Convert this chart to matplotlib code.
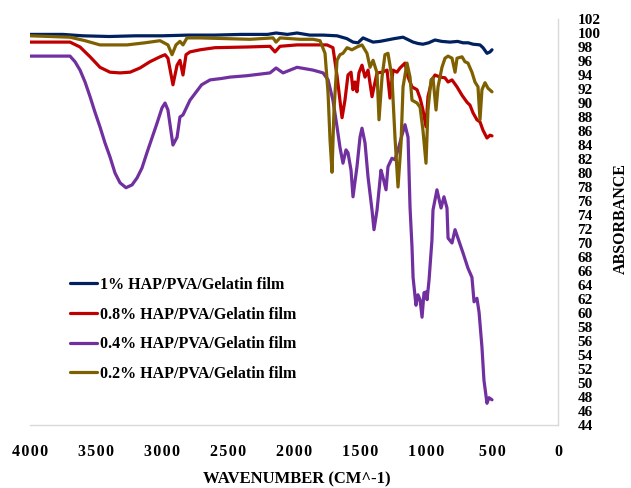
import matplotlib
matplotlib.use("Agg")
import matplotlib.pyplot as plt

# FTIR spectra of HAP/PVA/Gelatin films (wavenumber in cm^-1, absorbance)
wn_1 = [4000, 3750, 3600, 3400, 3200, 3000, 2800, 2600, 2400, 2200, 2136, 2050,
        1977, 1880, 1780, 1674, 1600, 1553, 1515, 1477, 1440, 1401, 1350, 1295,
        1240, 1174, 1098, 1060, 1023, 980, 932, 880, 818, 760, 720, 680, 644,
        591, 568, 538, 515, 500]
ab_1 = [99.8, 99.8, 99.6, 99.5, 99.6, 99.6, 99.7, 99.7, 99.8, 99.8, 100.0, 99.8,
        100.0, 99.7, 99.7, 99.6, 99.2, 98.7, 98.6, 99.3, 99.0, 98.7, 98.8, 99.0,
        99.2, 99.4, 98.7, 98.5, 98.4, 98.6, 99.0, 98.8, 98.7, 98.8, 98.6, 98.6, 98.4,
        98.3, 97.9, 97.1, 97.3, 97.6]

wn_08 = [4000, 3697, 3621, 3545, 3470, 3394, 3318, 3242, 3167, 3091, 3015, 2977,
         2955, 2917, 2886, 2864, 2841, 2818, 2788, 2712, 2600, 2356, 2182, 2144,
         2106, 1977, 1750, 1705, 1674, 1652, 1636, 1614, 1591, 1568, 1553, 1538,
         1523, 1508, 1485, 1462, 1439, 1409, 1394, 1371, 1333, 1295, 1273, 1250,
         1220, 1197, 1159, 1136, 1106, 1068, 1045, 1023, 1000, 985, 955, 932, 894,
         856, 833, 803, 765, 727, 689, 667, 644, 614, 591, 568, 538, 515, 500]
ab_08 = [98.7, 98.7, 98.0, 96.6, 95.1, 94.4, 94.3, 94.4, 95.0, 95.9, 96.6, 96.9,
         96.4, 92.6, 95.4, 96.1, 94.0, 96.9, 97.3, 97.6, 97.9, 98.0, 98.1, 97.3,
         98.1, 98.3, 98.3, 97.9, 93.9, 90.4, 87.9, 90.4, 94.0, 94.4, 91.9, 93.0,
         91.6, 94.3, 95.4, 93.7, 94.7, 90.9, 92.3, 94.3, 94.4, 94.7, 90.7, 94.7,
         94.4, 95.0, 95.7, 93.7, 92.3, 91.9, 90.7, 89.0, 86.6, 90.9, 93.3, 94.0, 93.7,
         93.6, 93.0, 93.3, 92.3, 91.1, 90.1, 89.7, 88.6, 87.6, 87.3, 86.1, 85.0, 85.4, 85.3]

wn_04 = [4000, 3697, 3659, 3621, 3583, 3545, 3508, 3470, 3432, 3394, 3356, 3318,
         3273, 3227, 3189, 3152, 3114, 3076, 3038, 3000, 2977, 2955, 2917, 2886,
         2864, 2841, 2788, 2700, 2636, 2550, 2485, 2356, 2182, 2136, 2083, 1977,
         1856, 1780, 1742, 1705, 1674, 1652, 1629, 1606, 1591, 1568, 1553, 1523,
         1500, 1485, 1462, 1439, 1409, 1394, 1371, 1341, 1326, 1303, 1288, 1258,
         1235, 1212, 1182, 1159, 1136, 1121, 1106, 1098, 1076, 1061, 1045, 1030,
         1015, 1000, 992, 977, 955, 947, 917, 886, 864, 841, 833, 803, 780, 758,
         720, 682, 652, 636, 614, 598, 576, 561, 538, 523, 500]
ab_04 = [96.7, 96.7, 95.9, 94.7, 93.0, 90.9, 88.7, 86.6, 84.3, 82.3, 80.0, 78.6,
         77.9, 78.3, 79.3, 80.7, 82.9, 85.0, 87.1, 89.3, 90.0, 89.0, 84.0, 85.1,
         88.0, 88.3, 90.4, 92.6, 93.3, 93.5, 93.7, 93.9, 94.3, 95.0, 94.3, 95.1,
         94.7, 94.3, 93.3, 90.4, 86.6, 83.7, 81.4, 83.3, 82.9, 80.4, 76.6, 80.9,
         85.1, 86.4, 84.3, 79.4, 74.7, 71.9, 74.7, 80.4, 79.4, 77.6, 80.9, 82.1,
         81.9, 83.3, 85.4, 86.9, 85.1, 75.1, 69.4, 65.1, 61.1, 62.6, 61.9, 59.4,
         62.9, 63.0, 61.9, 64.7, 70.4, 74.7, 77.6, 75.0, 76.6, 75.0, 70.7, 70.0, 71.9, 70.7,
         68.6, 66.4, 65.1, 61.6, 62.1, 60.1, 55.1, 50.4, 47.1, 47.9, 47.6]

wn_02 = [4000, 3697, 3583, 3470, 3265, 3129, 3015, 2955, 2924, 2894, 2864, 2841,
         2811, 2712, 2333, 2159, 2136, 2106, 1955, 1856, 1803, 1765, 1742, 1727,
         1712, 1697, 1674, 1652, 1629, 1598, 1561, 1523, 1485, 1447, 1424, 1401,
         1371, 1356, 1333, 1311, 1288, 1258, 1235, 1212, 1189, 1174, 1144, 1121,
         1106, 1068, 1045, 1023, 1000, 985, 962, 947, 924, 909, 879, 856, 833, 803,
         780, 765, 727, 705, 682, 652, 629, 606, 591, 576, 553, 530, 500]
ab_02 = [99.6, 99.4, 98.9, 98.3, 98.3, 98.6, 98.9, 98.3, 96.9, 98.3, 98.8, 98.3,
         99.3, 99.3, 99.1, 99.3, 98.7, 99.3, 99.1, 99.1, 98.9, 97.1, 91.4, 84.7,
         80.1, 89.0, 96.1, 96.9, 97.1, 97.9, 97.6, 98.0, 98.3, 97.1, 95.1, 96.1,
         94.3, 87.6, 93.7, 96.9, 97.1, 93.7, 85.1, 78.0, 84.3, 92.3, 95.7, 93.7,
         90.4, 90.0, 89.4, 86.1, 81.4, 89.0, 93.3, 93.6, 89.0, 92.3, 95.1, 96.4, 96.7, 96.4,
         94.4, 96.4, 96.6, 95.9, 95.7, 94.4, 93.0, 92.3, 87.6, 91.9, 92.9, 92.1, 91.6]

labels = ["1% HAP/PVA/Gelatin film", "0.8% HAP/PVA/Gelatin film",
          "0.4% HAP/PVA/Gelatin film", "0.2% HAP/PVA/Gelatin film"]
colors = ["#002060", "#C00000", "#7030A0", "#7F6000"]

x_ticks = list(range(4000, -1, -500))
y_ticks = list(range(44, 103, 2))

serif = ["Liberation Serif", "DejaVu Serif"]
plt.rcParams["font.family"] = serif
plt.rcParams["font.weight"] = "bold"

fig = plt.figure(figsize=(6.31, 4.88), dpi=100)
ax = fig.add_axes([30 / 631, 1 - 425 / 488, 528 / 631, 406 / 488])

series = [(wn_1, ab_1), (wn_08, ab_08), (wn_04, ab_04), (wn_02, ab_02)]
for (w, a), lab, c in zip(series, labels, colors):
    ax.plot(w, a, color=c, lw=2.3, label=lab,
            solid_joinstyle="round", solid_capstyle="round")

ax.set_xlim(4000, 0)
ax.set_ylim(44, 102)
ax.set_xticks(x_ticks)
ax.set_xticklabels(["\u200a".join(str(t)) for t in x_ticks],
                   fontsize=11.5, fontweight="bold")
ax.set_yticks(y_ticks)
ax.set_yticklabels([str(t) for t in y_ticks], fontsize=11, fontweight="bold")
ax.yaxis.tick_right()
ax.tick_params(length=0)
ax.tick_params(axis="y", pad=14)
ax.tick_params(axis="x", pad=14)

for s in ("left", "top"):
    ax.spines[s].set_visible(False)
for s in ("bottom", "right"):
    ax.spines[s].set_color("#d9d9d9")
    ax.spines[s].set_linewidth(1.0)

fig.text(297 / 631, 1 - 479 / 488, "WAVENUMBER (CM^-1)", ha="center", va="center",
         fontsize=12, fontweight="bold")
fig.text(621 / 631, 1 - 218 / 488, "ABSORBANCE", ha="center", va="center",
         rotation=90, fontsize=11.5, fontweight="bold")

leg = ax.legend(loc="upper left", bbox_to_anchor=(62 / 631, 1 - 269 / 488),
                bbox_transform=fig.transFigure, frameon=False, borderpad=0,
                handlelength=1.7, handletextpad=0.2, labelspacing=0.85,
                prop={"family": serif, "weight": "bold", "size": 11.5})

fig.savefig("out.png", dpi=100)
